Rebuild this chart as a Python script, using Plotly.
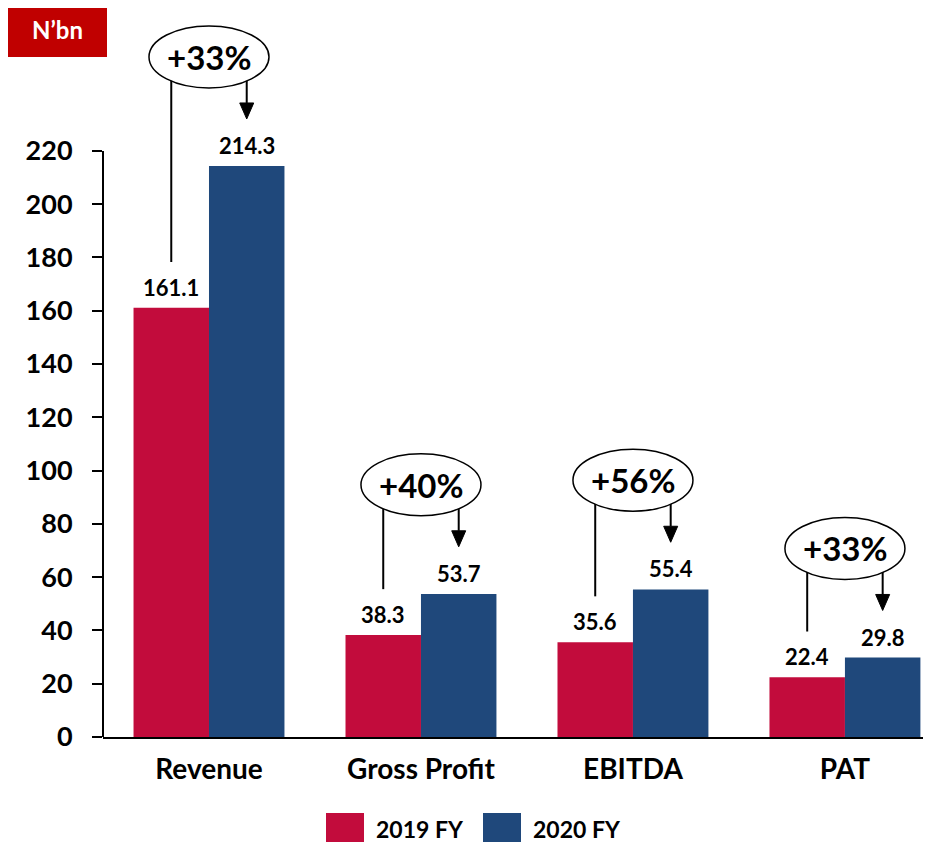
import plotly.graph_objects as go

categories = ["Revenue", "Gross Profit", "EBITDA", "PAT"]
fy2019 = [161.1, 38.3, 35.6, 22.4]
fy2020 = [214.3, 53.7, 55.4, 29.8]
growth = ["+33%", "+40%", "+56%", "+33%"]
series_names = ["2019 FY", "2020 FY"]
yticks = list(range(0, 221, 20))

RED = "#C20C3C"
BLUE = "#1F487B"
FONT = "Lato"

# page is offset by the 8px body margin
OFF = 8
W, H = 931 - OFF, 844 - OFF
ML, MR, MT, MB = 95, 0, 2, 107
PW, PH = W - ML - MR, H - MT - MB
XR = [-0.5, 3.406]
YMAX = 272.9

def px_x(px):  # page px -> paper
    return (px - OFF - ML) / PW

def px_y(py):
    return (H - MB - (py - OFF)) / PH

xs = list(range(len(categories)))
fig = go.Figure()
fig.add_trace(go.Bar(x=xs, y=fy2019, name=series_names[0], marker_color=RED,
                     marker_line_width=0))
fig.add_trace(go.Bar(x=xs, y=fy2020, name=series_names[1], marker_color=BLUE,
                     marker_line_width=0))

shapes = []
annotations = []
off = 0.178
ux = (XR[1] - XR[0]) / PW
uy = YMAX / PH

# y axis line only up to the top tick
shapes.append(dict(type="line", xref="paper", yref="y", x0=0, x1=0,
                   y0=0, y1=yticks[-1], line=dict(color="black", width=2)))

for i, (a, b, g) in enumerate(zip(fy2019, fy2020, growth)):
    for xv, v in ((i - off, a), (i + off, b)):
        annotations.append(dict(x=xv, y=v, text=f"<b>{v:.1f}</b>", showarrow=False,
                                yanchor="bottom", yshift=5,
                                font=dict(family=FONT, size=22, color="black")))
    cy = b + 41
    shapes.append(dict(type="line", x0=i - off, x1=i - off, y0=cy, y1=a + 17.2,
                       line=dict(color="black", width=2)))
    tip = b + 17.7
    th = 16 * uy
    tw = 7 * ux
    shapes.append(dict(type="line", x0=i + off, x1=i + off, y0=cy, y1=tip + th,
                       line=dict(color="black", width=2)))
    shapes.append(dict(type="path",
                       path=f"M {i+off-tw},{tip+th} L {i+off+tw},{tip+th} L {i+off},{tip} Z",
                       fillcolor="black", line=dict(color="black", width=1)))
    rx = 60 * ux
    ry = 31 * uy
    shapes.append(dict(type="circle", x0=i - rx, x1=i + rx, y0=cy - ry, y1=cy + ry,
                       fillcolor="white", line=dict(color="black", width=1.5)))
    annotations.append(dict(x=i, y=cy, text=f"<b>{g}</b>", showarrow=False,
                            xanchor="center", yanchor="middle",
                            font=dict(family=FONT, size=33, color="black")))

# N'bn box
shapes.append(dict(type="rect", xref="paper", yref="paper",
                   x0=px_x(7), x1=px_x(107), y0=px_y(57), y1=px_y(OFF),
                   fillcolor="#C00000", line=dict(width=0)))
annotations.append(dict(xref="paper", yref="paper", x=px_x(57), y=px_y(30),
                        xanchor="center", yanchor="middle",
                        text="<b>N’bn</b>", showarrow=False,
                        font=dict(family=FONT, size=24, color="white")))

# custom legend
leg = [(326, 364, RED, series_names[0], 374), (483, 521, BLUE, series_names[1], 531)]
for x0, x1, col, name, tx in leg:
    shapes.append(dict(type="rect", xref="paper", yref="paper",
                       x0=px_x(x0), x1=px_x(x1), y0=px_y(842), y1=px_y(813),
                       fillcolor=col, line=dict(width=0)))
    annotations.append(dict(xref="paper", yref="paper", x=px_x(tx), y=px_y(829),
                            xanchor="left", yanchor="middle",
                            text=f"<b>{name}</b>", showarrow=False,
                            font=dict(family=FONT, size=23, color="black")))

fig.update_layout(
    width=W, height=H,
    margin=dict(l=ML, r=MR, t=MT, b=MB),
    paper_bgcolor="white", plot_bgcolor="white",
    barmode="group", bargap=0.288, bargroupgap=0,
    showlegend=False,
    shapes=shapes, annotations=annotations,
    font=dict(family=FONT, color="black"),
)
fig.update_xaxes(range=XR, tickvals=xs, ticktext=[f"<b>{c}</b>" for c in categories],
                 showline=True, linecolor="black", linewidth=2, ticks="",
                 ticklabelstandoff=6,
                 tickfont=dict(family=FONT, size=28, color="black"),
                 showgrid=False, zeroline=False)
fig.update_yaxes(range=[0, YMAX], tickvals=yticks, ticktext=[f"<b>{t}</b>" for t in yticks],
                 showline=False,
                 ticks="outside", ticklen=10, tickwidth=2, tickcolor="black",
                 ticklabelstandoff=14,
                 tickfont=dict(family=FONT, size=27, color="black"),
                 showgrid=False, zeroline=False)

fig.write_html("out.html")
